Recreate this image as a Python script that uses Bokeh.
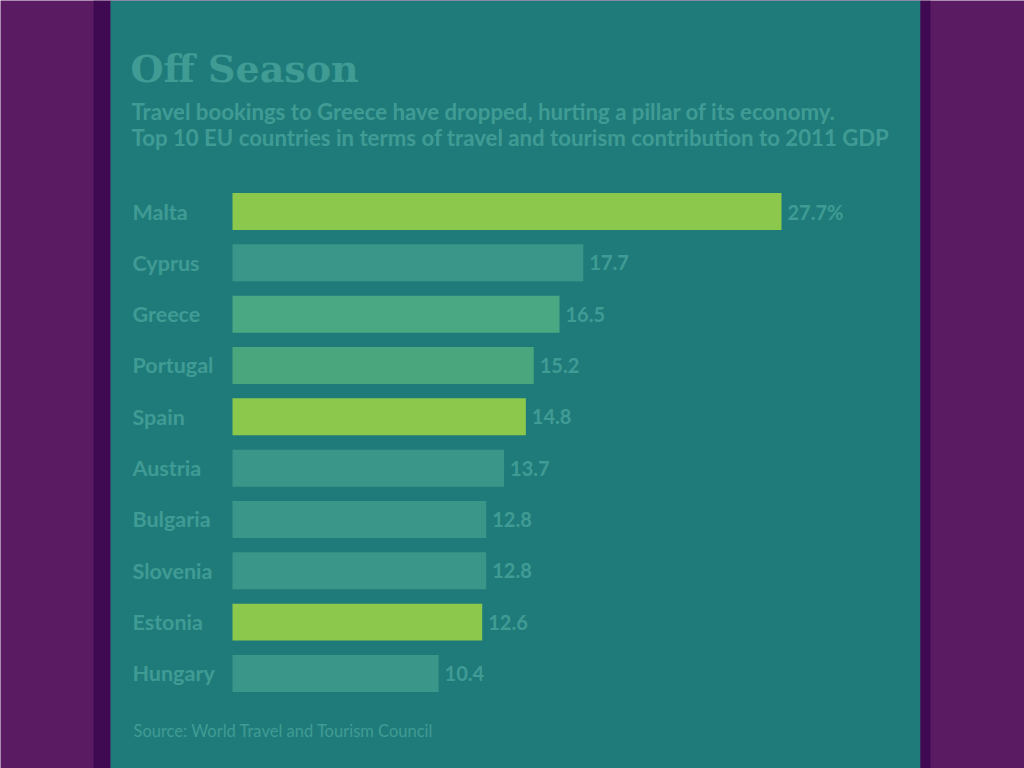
from bokeh.plotting import figure
from bokeh.models import Range1d, BoxAnnotation, Label, ColumnDataSource
from bokeh.core.properties import value
from bokeh.embed import file_html
from bokeh.resources import INLINE

# ---- data ----
countries = ["Malta", "Cyprus", "Greece", "Portugal", "Spain",
             "Austria", "Bulgaria", "Slovenia", "Estonia", "Hungary"]
values = [27.7, 17.7, 16.5, 15.2, 14.8, 13.7, 12.8, 12.8, 12.6, 10.4]
value_labels = ["27.7%"] + [f"{v:.1f}" for v in values[1:]]

title = "Off Season"
subtitle1 = "Travel bookings to Greece have dropped, hurting a pillar of its economy."
subtitle2 = "Top 10 EU countries in terms of travel and tourism contribution to 2011 GDP"
source_note = "Source: World Travel and Tourism Council"

# ---- styles ----
bar_colors = ["#8cc84b", "#3a9689", "#4aa882", "#4aa67c", "#8cc84b",
              "#3a9689", "#3a9689", "#3a9689", "#8cc84b", "#3a9689"]
PURPLE = "#5a1b63"
DARK = "#3f0a52"
TEAL = "#1f7b7a"
TXT = "#409b94"

W, H = 1024, 768
OFF = 0
KX = 549 / 27.7
KY = 51.33
X0, Y0 = 232, 211


def X(px):
    return (px - OFF - X0) / KX


def Y(py):
    return (py - OFF - Y0) / KY


p = figure(width=W, height=H, output_backend="svg", toolbar_location=None,
           x_range=Range1d(-X0 / KX, (W - X0) / KX),
           y_range=Range1d((H - Y0) / KY, -Y0 / KY),
           min_border=0, outline_line_color=None,
           background_fill_color=PURPLE, border_fill_color=PURPLE)
p.axis.visible = False
p.grid.visible = False

# panel
p.add_layout(BoxAnnotation(left=X(93), right=X(110), fill_color=DARK, fill_alpha=1,
                           line_color=None, level="underlay"))
p.add_layout(BoxAnnotation(left=X(110), right=X(920), fill_color=TEAL, fill_alpha=1,
                           line_color=None, level="underlay"))
p.add_layout(BoxAnnotation(left=X(920), right=X(930), fill_color=DARK, fill_alpha=1,
                           line_color=None, level="underlay"))

ys = list(range(len(countries)))
src = ColumnDataSource(dict(y=ys, v=values, c=bar_colors, country=countries,
                            lab=value_labels))

p.hbar(y="y", left=0, right="v", height=0.72, fill_color="c", line_color=None,
       source=src)

p.text(x=X(132), y="y", text="country", source=src,
       text_font=value("Lato"), text_font_style="bold",
       text_font_size="21.5px", text_color=TXT, text_baseline="middle")
p.text(x="v", y="y", text="lab", source=src, x_offset=6,
       text_font=value("Lato"), text_font_style="bold",
       text_font_size="20px", text_color=TXT, text_baseline="middle")

p.add_layout(Label(x=X(130), y=Y(68), text=title, text_font="DejaVu Serif",
                   text_font_style="bold", text_font_size="38px",
                   text_color=TXT, text_baseline="middle"))
p.add_layout(Label(x=X(131), y=Y(111), text=subtitle1, text_font="Lato",
                   text_font_style="bold", text_font_size="22.2px",
                   text_color=TXT, text_baseline="middle"))
p.add_layout(Label(x=X(131), y=Y(137), text=subtitle2, text_font="Lato",
                   text_font_style="bold", text_font_size="22.2px",
                   text_color=TXT, text_baseline="middle"))
p.add_layout(Label(x=X(133), y=Y(730), text=source_note, text_font="Lato",
                   text_font_size="16.5px", text_color=TXT,
                   text_baseline="middle"))

html = file_html(p, INLINE)
html = html.replace("<body>", '<body style="background:%s;">' % PURPLE, 1)
open("out.html", "w").write(html)
